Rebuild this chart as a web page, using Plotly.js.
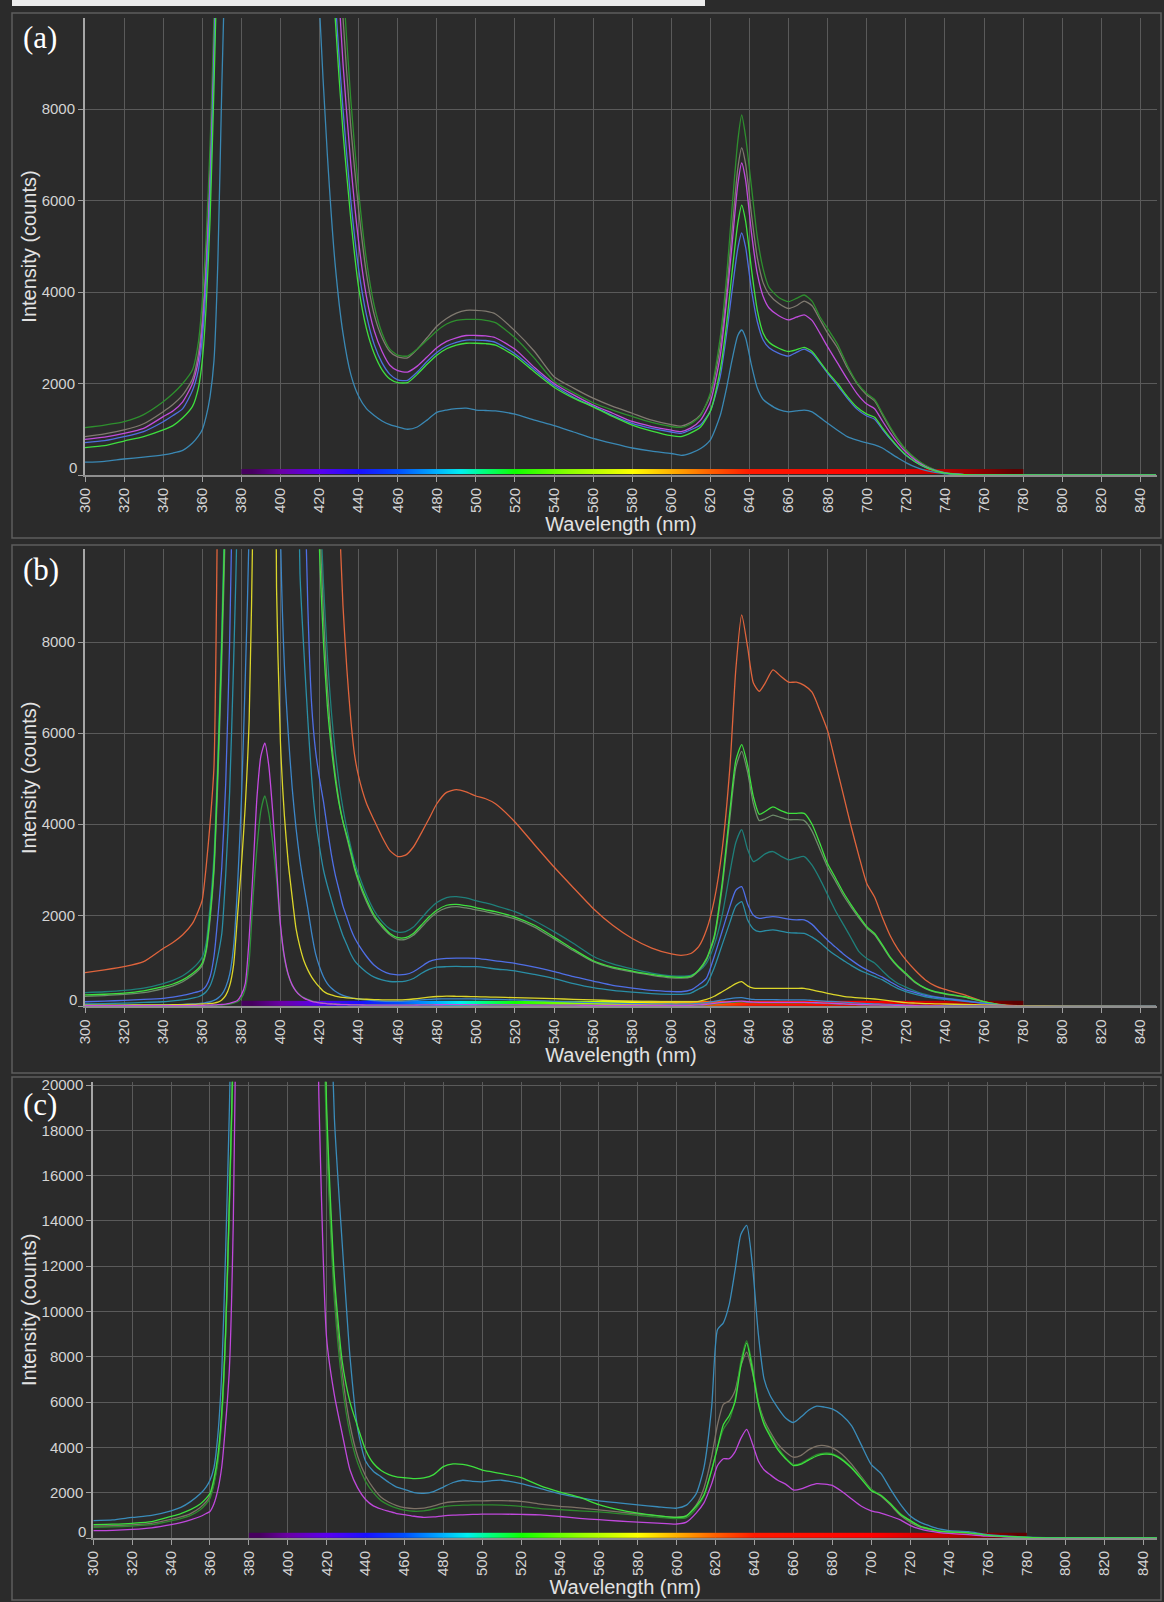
<!DOCTYPE html>
<html><head><meta charset="utf-8">
<script src="https://cdn.plot.ly/plotly-3.0.1.min.js"></script>
<style>html,body{margin:0;padding:0;background:#2b2b2b;}#chart{width:1164px;height:1602px;}</style>
</head><body><div id="chart"></div>
<script>
// ---------- tick labels ----------
const xTickVals = [300,320,340,360,380,400,420,440,460,480,500,520,540,560,580,600,620,640,660,680,700,720,740,760,780,800,820,840];
const xTickText = ['300','320','340','360','380','400','420','440','460','480','500','520','540','560','580','600','620','640','660','680','700','720','740','760','780','800','820','840'];
const yTickValsAB = [0,2000,4000,6000,8000];
const yTickTextAB = ['','2000','4000','6000','8000'];
const yTickValsC = [0,2000,4000,6000,8000,10000,12000,14000,16000,18000,20000];
const yTickTextC = ['','2000','4000','6000','8000','10000','12000','14000','16000','18000','20000'];

// ---------- panel (a) ----------
const wlA = [300,310,320,330,340,345,350,355,358,360,
 362,364,366,368,370,372,376,380,400,
 416,420,424,428,432,436,440,444,448,
 452,456,460,465,470,475,480,485,490,
 495,500,505,510,520,530,540,550,560,
 570,580,590,600,605,610,615,620,625,
 628,631,634,636,638,641,644,647,650,
 655,660,664,668,672,676,680,685,690,
 695,700,704,708,712,716,720,725,730,
 735,740,750,770,800,848];
const a_steel = [280,300,350,390,440,480,540,700,850,990,
 1280,1720,2500,4700,8500,12000,30000,60000,90000,
 16000,10200,7000,4600,3100,2200,1720,1450,1300,
 1180,1100,1050,1000,1050,1200,1370,1420,1450,
 1460,1420,1410,1400,1330,1200,1080,940,800,
 690,590,520,470,430,480,580,770,1300,
 1850,2500,3050,3170,3000,2400,1900,1650,1550,
 1430,1380,1400,1420,1380,1260,1130,980,840,
 760,700,660,590,480,370,270,170,100,
 55,25,5,0,0,0];
const a_dkgreen = [1035,1090,1165,1320,1600,1780,2000,2300,2900,3800,
 5200,7200,10000,14000,20000,30000,50000,80000,90000,
 60000,40000,20000,14000,10800,8200,6200,4700,3700,
 3100,2750,2620,2600,2750,2950,3150,3300,3380,
 3400,3400,3380,3330,3000,2550,2050,1800,1580,
 1420,1280,1150,1060,1040,1120,1300,1800,3000,
 4200,5800,7300,7870,7400,6300,5200,4500,4100,
 3880,3790,3860,3935,3800,3460,3200,2860,2400,
 2020,1780,1650,1350,1050,780,560,360,210,
 110,50,10,0,0,0];
const a_gray = [838,900,984,1120,1384,1540,1750,2100,2650,3400,
 4700,6700,9400,13000,19000,28000,50000,80000,90000,
 60000,38000,19000,13500,10000,7600,5800,4400,3500,
 3000,2700,2580,2560,2750,3000,3250,3420,3540,
 3600,3600,3580,3520,3150,2700,2150,1900,1680,
 1500,1350,1200,1100,1070,1150,1320,1750,2800,
 3900,5300,6700,7150,6800,5700,4750,4200,3950,
 3750,3640,3700,3800,3700,3400,3100,2780,2350,
 2000,1750,1620,1320,1020,760,540,350,200,
 105,48,10,0,0,0];
const a_magenta = [780,830,911,1020,1275,1400,1600,2000,2500,3200,
 4500,6400,9200,13000,19000,28000,50000,80000,90000,
 50000,32000,17000,12000,9000,6800,5100,3900,3150,
 2700,2400,2280,2250,2380,2580,2780,2920,3000,
 3050,3050,3040,3000,2750,2350,2000,1750,1530,
 1350,1170,1060,980,950,1030,1200,1600,2600,
 3700,5000,6350,6820,6450,5300,4400,3900,3650,
 3480,3390,3450,3500,3380,3100,2800,2450,2100,
 1780,1550,1450,1180,920,690,500,320,185,
 100,45,10,0,0,0];
const a_blue = [707,750,838,950,1165,1300,1450,1850,2300,3000,
 4200,6100,9000,12500,18000,27000,50000,80000,90000,
 45000,28000,15000,10500,8000,6000,4500,3500,2850,
 2450,2200,2080,2070,2250,2480,2680,2820,2900,
 2950,2950,2940,2900,2650,2300,1960,1700,1500,
 1300,1130,1020,940,910,990,1100,1400,2150,
 3000,4000,4950,5290,4980,4050,3350,2950,2780,
 2660,2600,2680,2750,2660,2450,2220,1960,1680,
 1440,1290,1220,1000,790,600,430,280,165,
 90,40,8,0,0,0];
const a_green = [598,640,743,840,985,1080,1250,1500,1900,2500,
 3700,5600,8500,12000,17000,26000,50000,80000,90000,
 40000,25000,14000,10000,7500,5600,4100,3200,2650,
 2300,2100,2020,2020,2200,2420,2620,2760,2840,
 2880,2880,2870,2840,2600,2250,1920,1680,1490,
 1280,1090,960,860,840,920,1050,1400,2300,
 3200,4400,5500,5900,5550,4500,3600,3100,2900,
 2770,2700,2740,2790,2700,2480,2250,2000,1720,
 1480,1330,1260,1030,810,610,440,285,170,
 92,42,8,0,0,0];

// ---------- panel (b) ----------
const wlB = [300,310,320,330,340,345,350,355,358,360,
 362,364,366,368,370,372,374,376,378,380,
 382,384,386,388,390,392,394,396,398,400,
 402,404,406,408,410,412,414,416,418,420,
 422,424,426,428,430,432,434,436,438,440,
 444,448,452,456,460,464,468,472,476,480,
 485,490,495,500,505,510,520,530,540,550,
 560,570,580,590,600,605,610,614,618,622,
 626,630,633,636,639,642,645,648,652,656,
 660,664,668,672,676,680,684,688,692,696,
 700,704,708,712,716,720,725,730,735,740,
 750,760,770,780,800,848];
const b_orange = [740,800,870,980,1270,1400,1570,1820,2100,2340,
 3070,4020,5270,12000,25000,40000,60000,60000,60000,60000,
 60000,60000,60000,60000,60000,60000,60000,60000,60000,60000,
 60000,60000,60000,60000,60000,60000,60000,60000,60000,60000,
 60000,50000,35000,16000,11000,8800,7400,6300,5500,5050,
 4460,4080,3720,3420,3290,3320,3500,3800,4120,4450,
 4700,4760,4710,4620,4560,4450,4050,3550,3060,2600,
 2150,1780,1490,1280,1150,1120,1160,1310,1680,2340,
 3440,5270,7400,8600,7900,7100,6920,7100,7390,7250,
 7120,7120,7050,6900,6500,6050,5350,4650,3950,3300,
 2700,2400,1950,1550,1250,1020,780,580,450,370,
 250,100,30,10,5,0];
const b_green = [250,265,290,340,430,490,580,720,830,950,
 1250,2000,3070,5270,8000,11500,20000,40000,60000,60000,
 60000,60000,60000,60000,60000,60000,60000,60000,60000,60000,
 60000,60000,60000,60000,60000,60000,40000,22000,14000,10000,
 8000,6600,5700,5000,4450,4050,3750,3400,3050,2780,
 2350,2000,1780,1600,1510,1510,1600,1780,1960,2110,
 2220,2240,2210,2170,2120,2080,1960,1780,1520,1250,
 1000,860,775,700,645,637,660,800,1050,1550,
 2700,4300,5400,5750,5300,4600,4220,4280,4380,4300,
 4240,4240,4240,4000,3580,3130,2820,2500,2230,1980,
 1750,1600,1350,1080,880,725,530,400,320,280,
 210,100,20,0,0,0];
const b_graygreen = [220,235,260,300,390,450,540,680,790,900,
 1200,1900,2950,5000,7600,11000,20000,40000,60000,60000,
 60000,60000,60000,60000,60000,60000,60000,60000,60000,60000,
 60000,60000,60000,60000,60000,60000,45000,25000,15500,10800,
 8600,7000,5900,5100,4500,4050,3700,3350,3000,2730,
 2300,1960,1740,1570,1470,1470,1560,1730,1910,2060,
 2160,2190,2160,2120,2080,2030,1920,1740,1480,1220,
 980,840,755,680,625,618,640,780,1020,1500,
 2600,4150,5250,5600,5150,4450,4080,4120,4200,4150,
 4100,4100,4080,3850,3450,3050,2750,2440,2180,1940,
 1720,1570,1320,1060,860,700,510,390,310,270,
 200,95,20,0,0,0];
const b_darkteal = [300,320,350,400,500,570,670,830,960,1080,
 1400,2200,3300,5500,8300,12000,22000,40000,60000,60000,
 60000,60000,60000,60000,60000,60000,60000,60000,60000,60000,
 60000,60000,60000,60000,60000,60000,50000,30000,17000,11500,
 9300,7700,6500,5600,4900,4350,3900,3500,3150,2900,
 2450,2100,1860,1700,1630,1640,1740,1930,2120,2280,
 2390,2410,2380,2320,2270,2210,2080,1880,1640,1380,
 1100,930,820,730,670,660,680,770,950,1350,
 2000,2950,3600,3880,3450,3180,3250,3350,3400,3300,
 3220,3260,3290,3100,2800,2450,2100,1800,1500,1200,
 1050,950,780,620,500,420,330,260,210,180,
 130,70,20,0,0,0];
const b_blue = [100,115,130,150,176,200,240,290,320,360,
 450,650,1100,1970,3070,4900,8000,13000,30000,60000,
 60000,60000,60000,60000,60000,60000,60000,60000,60000,60000,
 60000,60000,60000,40000,20000,12500,8800,6600,5600,5000,
 4500,3900,3350,2900,2550,2200,1950,1700,1500,1350,
 1100,900,780,710,690,700,760,870,980,1030,
 1055,1060,1058,1055,1030,1000,945,860,760,650,
 555,460,400,350,325,320,360,470,620,1100,
 1650,2200,2550,2630,2250,2000,1930,1950,1970,1950,
 1915,1900,1900,1800,1620,1450,1300,1150,1020,900,
 800,720,640,540,440,360,300,240,200,176,
 120,66,20,0,0,0];
const b_teal = [50,60,70,85,100,120,140,180,210,250,
 320,450,700,1100,1600,2900,4700,7500,11000,25000,
 60000,60000,60000,60000,60000,60000,60000,60000,60000,60000,
 60000,60000,30000,15000,9500,7800,6300,5000,4100,3500,
 3000,2650,2350,2050,1800,1550,1350,1150,1000,900,
 750,640,580,545,540,555,610,720,810,860,
 870,875,872,870,850,820,780,700,610,500,
 410,350,310,280,264,262,290,380,480,850,
 1350,1850,2200,2300,1900,1700,1640,1660,1677,1650,
 1620,1610,1604,1520,1400,1250,1120,1010,900,800,
 725,650,580,480,390,322,260,210,175,154,
 110,66,20,0,0,0];
const b_steel = [20,20,25,25,30,35,40,50,60,70,
 85,100,130,180,260,420,700,1300,2600,4500,
 7200,10500,20000,40000,60000,60000,60000,60000,30000,10500,
 7500,6000,4800,3900,3200,2650,2150,1600,1150,870,
 650,500,400,330,280,240,210,190,170,160,
 140,125,115,110,110,115,125,140,150,160,
 165,165,163,160,155,150,140,125,110,95,
 80,70,60,55,50,50,55,65,80,110,
 140,170,185,190,170,150,145,145,145,142,
 140,140,140,130,120,110,100,90,80,70,
 60,55,48,40,34,28,22,18,14,12,
 8,5,2,0,0,0];
const b_yellow = [25,25,28,30,32,35,38,42,46,50,
 55,62,72,90,140,240,450,900,1970,3070,
 4400,6300,11000,25000,60000,60000,60000,25000,9200,5800,
 4200,3150,2400,1700,1300,1000,800,640,520,420,
 330,280,250,225,205,195,185,178,172,165,
 155,148,142,140,140,145,160,180,200,215,
 225,220,215,212,205,200,190,180,170,150,
 140,125,115,105,100,100,100,110,150,220,
 320,420,500,540,450,400,395,395,395,395,
 395,395,395,360,320,286,250,220,200,185,
 176,160,140,120,100,80,70,60,55,50,
 40,30,20,10,5,0];
const b_magenta = [15,15,15,15,15,15,15,18,20,22,
 25,28,30,35,40,50,65,90,130,250,
 500,1500,3000,4600,5500,5780,5300,4300,3050,1800,
 1100,700,470,330,240,180,140,110,90,75,
 65,55,50,45,40,38,35,33,32,30,
 28,26,25,25,25,25,27,30,32,34,
 35,35,35,34,33,32,30,28,26,24,
 22,20,20,20,20,20,22,30,45,65,
 85,100,110,115,100,90,88,88,88,88,
 88,88,88,82,75,68,60,52,45,40,
 35,32,28,24,20,16,12,10,8,6,
 4,3,2,0,0,0];
const b_dkgreen = [10,10,10,10,10,10,10,12,14,15,
 17,20,22,25,30,38,50,70,100,180,
 380,1000,2400,3500,4300,4620,4250,3600,2800,1750,
 1050,680,460,340,250,190,150,120,95,80,
 70,60,55,50,45,42,40,38,36,34,
 32,30,28,28,28,28,30,32,34,36,
 37,37,37,36,35,34,32,30,28,25,
 23,21,20,20,20,20,22,28,40,55,
 70,85,95,100,88,80,78,78,78,78,
 78,78,78,72,66,60,53,46,40,35,
 31,28,25,21,18,14,11,9,7,5,
 4,3,2,0,0,0];

// ---------- panel (c) ----------
const wlC = [300,310,320,330,340,345,350,355,358,360,
 362,364,366,368,370,372,374,376,380,
 400,412,416,420,424,428,432,436,440,
 444,448,452,456,460,465,470,475,480,
 485,490,495,500,505,510,520,530,540,
 550,560,570,580,590,600,605,610,614,
 618,621,624,627,630,633,636,639,642,
 645,648,652,656,660,664,668,672,676,
 680,685,690,695,700,705,710,715,720,
 725,730,735,740,750,760,780,800,848];
const c_steel = [764,800,909,1000,1200,1350,1607,1950,2250,2553,
 3100,4500,7200,12500,19000,28000,40000,60000,100000,
 100000,100000,60000,30000,18500,13000,8000,4800,3400,
 2950,2700,2450,2250,2150,2000,1970,2050,2250,
 2450,2550,2500,2480,2530,2550,2400,2180,1950,
 1780,1640,1550,1460,1380,1316,1450,1950,3100,
 5800,9200,9500,10300,11800,13400,13800,12000,9000,
 7000,6300,5750,5300,5100,5350,5650,5820,5780,
 5700,5420,4950,4100,3250,2850,2150,1500,980,
 700,540,400,330,280,150,40,10,0];
const c_green = [589,610,650,720,953,1080,1250,1500,1750,1971,
 2600,3600,5500,9000,15000,22000,35000,60000,100000,
 100000,80000,35000,19000,11500,7800,6000,4900,3900,
 3300,2980,2800,2700,2660,2620,2650,2800,3150,
 3270,3250,3150,3000,2920,2840,2670,2300,2030,
 1800,1470,1250,1098,990,909,980,1400,1900,
 3000,4000,5000,5400,6000,7600,8600,7400,5900,
 5000,4500,3900,3500,3200,3260,3450,3620,3700,
 3680,3450,3080,2600,2100,1880,1500,1050,770,
 520,400,300,270,230,120,30,5,0];
const c_dimgreen = [470,490,530,590,760,860,1000,1250,1500,1750,
 2350,3300,5200,8800,14500,21500,34000,60000,100000,
 100000,75000,32000,17500,10500,6800,4600,3300,2500,
 2000,1650,1450,1320,1230,1180,1200,1280,1380,
 1430,1450,1460,1460,1460,1450,1400,1300,1250,
 1200,1150,1080,1000,920,860,900,1300,1850,
 3000,4000,4800,5200,6100,7800,8700,7600,6000,
 5100,4600,4000,3550,3250,3300,3500,3680,3750,
 3720,3500,3120,2650,2150,1900,1520,1080,780,
 530,410,310,275,230,120,30,5,0];
const c_gray = [520,540,580,650,820,930,1080,1350,1600,1850,
 2450,3450,5300,8900,14800,22000,35000,60000,100000,
 100000,78000,33000,18500,11000,7300,5000,3600,2750,
 2200,1800,1580,1430,1340,1300,1320,1420,1540,
 1600,1620,1640,1640,1650,1650,1620,1500,1400,
 1330,1244,1150,1060,980,920,980,1450,2200,
 3600,5000,5900,6050,6500,7600,8200,7300,6000,
 5200,4700,4150,3800,3570,3650,3900,4060,4080,
 3980,3700,3250,2700,2150,1850,1450,1000,700,
 480,370,290,260,220,110,25,5,0];
const c_magenta = [327,340,380,450,589,680,800,950,1080,1171,
 1500,2100,3100,5000,7500,14000,28000,50000,100000,
 100000,40000,19500,8800,6300,4600,3000,2200,1700,
 1420,1280,1180,1080,1030,960,910,930,980,
 1010,1025,1040,1050,1055,1055,1040,1020,950,
 870,807,750,705,660,618,700,1100,1550,
 2400,3200,3500,3500,3800,4400,4800,4150,3400,
 3000,2800,2550,2380,2120,2170,2300,2400,2380,
 2320,2050,1720,1400,1200,1100,960,800,560,
 400,300,240,200,150,80,20,5,0];

// ---------- spectrum strip (visible band reference bar) ----------
const specWl = [385,395,405,415,425,435,445,455,465,475,485,495,505,515,525,535,545,555,565,575,
 585,595,605,615,625,635,645,655,665,675,685,695,705,715,725,735,745,755,765,775];
const specScale = [
 [0.00,'#3a0046'],[0.05,'#6a00a6'],[0.10,'#5a00f0'],[0.15,'#1a10ff'],[0.20,'#0050ff'],
 [0.25,'#00b4ff'],[0.28,'#00f0f0'],[0.31,'#00ff80'],[0.35,'#10ff00'],[0.42,'#8cff00'],
 [0.50,'#ffff00'],[0.55,'#ffb000'],[0.60,'#ff6000'],[0.65,'#ff1a00'],[0.80,'#ff0000'],
 [0.90,'#c00000'],[1.00,'#500000']];

// ---------- build ----------
const W = 1164, H = 1602;
function line(x, y, color, xa, ya) {
  return {type:'scatter', mode:'lines', x:x, y:y, xaxis:xa, yaxis:ya,
          line:{color:color, width:1.3, shape:'spline', smoothing:0.6}, hoverinfo:'skip'};
}
function strip(xa, ya, lo, d) {
  return {type:'heatmap', x:specWl, y0:lo, dy:d, z:[specWl, specWl], zmin:380, zmax:780,
          colorscale:specScale, showscale:false, zsmooth:'best', xaxis:xa, yaxis:ya, hoverinfo:'skip'};
}
const traces = [
  strip('x','y',47.5,55),
  line(wlA,a_steel,'#3a88b4','x','y'),
  line(wlA,a_gray,'#807a70','x','y'),
  line(wlA,a_dkgreen,'#2e8f2e','x','y'),
  line(wlA,a_magenta,'#c04cdc','x','y'),
  line(wlA,a_blue,'#4f6fe0','x','y'),
  line(wlA,a_green,'#3ee03e','x','y'),

  strip('x2','y2',30,60),
  line(wlB,b_orange,'#e0643c','x2','y2'),
  line(wlB,b_darkteal,'#1f7f7a','x2','y2'),
  line(wlB,b_graygreen,'#6e8a6a','x2','y2'),
  line(wlB,b_green,'#3ee03e','x2','y2'),
  line(wlB,b_teal,'#2a8ea6','x2','y2'),
  line(wlB,b_blue,'#4f6fe6','x2','y2'),
  line(wlB,b_steel,'#3c86c8','x2','y2'),
  line(wlB,b_yellow,'#dcd62a','x2','y2'),
  line(wlB,b_dkgreen,'#2e8f3a','x2','y2'),
  line(wlB,b_magenta,'#c44ae0','x2','y2'),

  strip('x3','y3',57.5,115),
  line(wlC,c_gray,'#7d7266','x3','y3'),
  line(wlC,c_dimgreen,'#2e8b2e','x3','y3'),
  line(wlC,c_magenta,'#c048dc','x3','y3'),
  line(wlC,c_steel,'#3a8cba','x3','y3'),
  line(wlC,c_green,'#3ee03e','x3','y3')
];

function xAxis(domain, range, anchor) {
  return {domain:domain, range:range, anchor:anchor, tickmode:'array', tickvals:xTickVals, ticktext:xTickText,
    tickangle:-90, ticks:'outside', ticklen:5, tickwidth:1, tickcolor:'#a0a0a0',
    showgrid:true, gridcolor:'#5a5a5a', gridwidth:1, showline:true, linecolor:'#8e8e8e', linewidth:2,
    zeroline:false, tickfont:{size:15, color:'#d4d4d4'},
    title:{text:'Wavelength (nm)', font:{size:20, color:'#e2e2e2'}, standoff:5}};
}
function yAxis(domain, range, anchor, tv, tt, standoff) {
  return {domain:domain, range:range, anchor:anchor, tickmode:'array', tickvals:tv, ticktext:tt,
    ticks:'outside', ticklen:5, tickwidth:1, tickcolor:'#a0a0a0',
    showgrid:true, gridcolor:'#5a5a5a', gridwidth:1, showline:true, linecolor:'#a6a6a6', linewidth:2,
    zeroline:false, tickfont:{size:15, color:'#d4d4d4'},
    title:{text:'Intensity (counts)', font:{size:20, color:'#e2e2e2'}, standoff:standoff}};
}
const py = p => 1 - p / H;
const px = p => p / W;

const layout = {
  width:W, height:H, margin:{l:0,r:0,t:0,b:0}, showlegend:false,
  paper_bgcolor:'#2b2b2b', plot_bgcolor:'#2b2b2b',
  font:{family:'"Liberation Sans", Arial, sans-serif', color:'#d4d4d4', size:15},
  xaxis: xAxis([px(85), px(1157)], [300, 848.5], 'y'),
  yaxis: yAxis([py(475), py(18)], [0, 9990], 'x', yTickValsAB, yTickTextAB, 0),
  xaxis2: xAxis([px(85), px(1157)], [300, 848.5], 'y2'),
  yaxis2: yAxis([py(1006.3), py(549.3)], [0, 10040], 'x2', yTickValsAB, yTickTextAB, 0),
  xaxis3: xAxis([px(93.3), px(1157)], [300, 847], 'y3'),
  yaxis3: yAxis([py(1538), py(1081.7)], [0, 20146], 'x3', yTickValsC, yTickTextC, 0),
  shapes: [
    {type:'rect', xref:'paper', yref:'paper', x0:px(12), x1:px(705), y0:py(6), y1:py(0), fillcolor:'#ececec', line:{width:0}},
    {type:'rect', xref:'paper', yref:'paper', x0:px(12), x1:px(1161), y0:py(538), y1:py(13), line:{color:'#5e5e5e', width:1.5}},
    {type:'rect', xref:'paper', yref:'paper', x0:px(12), x1:px(1161), y0:py(1073), y1:py(545), line:{color:'#5e5e5e', width:1.5}},
    {type:'rect', xref:'paper', yref:'paper', x0:px(12), x1:px(1161), y0:py(1600), y1:py(1077), line:{color:'#5e5e5e', width:1.5}}
  ],
  annotations: [
    {text:'(a)', xref:'paper', yref:'paper', x:px(40), y:py(38), showarrow:false, xanchor:'center', yanchor:'middle',
     font:{family:'"Liberation Serif", "Times New Roman", serif', size:31, color:'#ffffff'}},
    {text:'(b)', xref:'paper', yref:'paper', x:px(41), y:py(569), showarrow:false, xanchor:'center', yanchor:'middle',
     font:{family:'"Liberation Serif", "Times New Roman", serif', size:31, color:'#ffffff'}},
    {text:'(c)', xref:'paper', yref:'paper', x:px(40), y:py(1104), showarrow:false, xanchor:'center', yanchor:'middle',
     font:{family:'"Liberation Serif", "Times New Roman", serif', size:31, color:'#ffffff'}},
    {text:'0', xref:'paper', yref:'y', x:px(78.5), y:0, yshift:8, showarrow:false, xanchor:'right', yanchor:'middle', font:{size:15, color:'#d4d4d4'}},
    {text:'0', xref:'paper', yref:'y2', x:px(78.5), y:0, yshift:7, showarrow:false, xanchor:'right', yanchor:'middle', font:{size:15, color:'#d4d4d4'}},
    {text:'0', xref:'paper', yref:'y3', x:px(87.5), y:0, yshift:7, showarrow:false, xanchor:'right', yanchor:'middle', font:{size:15, color:'#d4d4d4'}}
  ]
};

Plotly.newPlot('chart', traces, layout, {displayModeBar:false, staticPlot:true});
</script></body></html>
